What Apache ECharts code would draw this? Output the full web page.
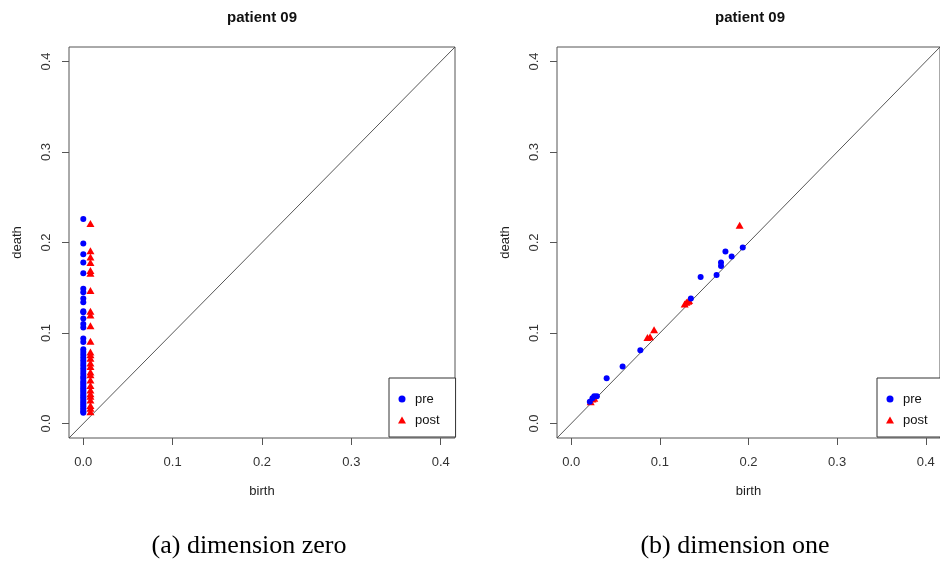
<!DOCTYPE html>
<html>
<head>
<meta charset="utf-8">
<script src="https://cdn.jsdelivr.net/npm/echarts@6/dist/echarts.min.js"></script>
<style>
html,body{margin:0;padding:0;background:#fff;}
#chart{width:940px;height:563px;}
</style>
</head>
<body>
<div id="chart"></div>
<script>
// ---- data ----
const axisLimits = [-0.016, 0.416];
const tickValues = [0, 0.1, 0.2, 0.3, 0.4];
const panelTitles = ['patient 09', 'patient 09'];
const panelCaptions = ['(a) dimension zero', '(b) dimension one'];
const legendNames = ['pre', 'post'];

// dimension zero
const zeroPreDeath = [0.226, 0.199, 0.187, 0.178, 0.166, 0.149, 0.145, 0.138, 0.134, 0.124, 0.123, 0.116, 0.110, 0.106, 0.094, 0.090,
  0.082, 0.079, 0.076, 0.073, 0.070, 0.067, 0.064, 0.061, 0.058, 0.055, 0.052, 0.050, 0.047, 0.045, 0.043, 0.041, 0.039, 0.037,
  0.035, 0.033, 0.031, 0.029, 0.027, 0.025, 0.023, 0.021, 0.019, 0.017, 0.015, 0.013, 0.012];
const zeroPreBirth = [0, 0, 0, 0, 0, 0, 0, 0, 0, 0, 0, 0, 0, 0, 0, 0,
  0, 0, 0, 0, 0, 0, 0, 0, 0, 0, 0, 0, 0, 0, 0, 0, 0, 0,
  0, 0, 0, 0, 0, 0, 0, 0, 0, 0, 0, 0, 0];
const zeroPostDeath = [0.221, 0.191, 0.184, 0.178, 0.169, 0.166, 0.147, 0.124, 0.120, 0.108, 0.091, 0.079, 0.076, 0.072, 0.067,
  0.063, 0.057, 0.054, 0.048, 0.042, 0.037, 0.033, 0.030, 0.026, 0.020, 0.017, 0.013];
const zeroPostBirth = [0.008, 0.008, 0.008, 0.008, 0.008, 0.008, 0.008, 0.008, 0.008, 0.008, 0.008, 0.008, 0.008, 0.008, 0.008,
  0.008, 0.008, 0.008, 0.008, 0.008, 0.008, 0.008, 0.008, 0.008, 0.008, 0.008, 0.008];

// dimension one
const onePreBirth = [0.021, 0.024, 0.026, 0.029, 0.040, 0.058, 0.078, 0.135, 0.146, 0.164, 0.169, 0.169, 0.174, 0.181, 0.1935];
const onePreDeath = [0.024, 0.028, 0.030, 0.030, 0.050, 0.063, 0.081, 0.138, 0.162, 0.164, 0.174, 0.178, 0.190, 0.1845, 0.1944];
const onePostBirth = [0.022, 0.024, 0.026, 0.086, 0.089, 0.0935, 0.128, 0.130, 0.132, 0.133, 0.190];
const onePostDeath = [0.024, 0.027, 0.028, 0.095, 0.096, 0.1035, 0.132, 0.134, 0.135, 0.136, 0.219];

// ---- build ----
const pairs = (xs, ys) => xs.map((x, i) => [x, ys[i]]);
const FONT = 'Liberation Sans, Arial, sans-serif';
const gridLefts = [69, 557];
const gridW = 386, gridH = 391, gridTop = 47;

function xAxisFor(i) {
  return {
    gridIndex: i, type: 'value', min: axisLimits[0], max: axisLimits[1], position: 'bottom',
    axisLine: { show: false, onZero: false },
    splitLine: { show: false },
    axisTick: { show: true, inside: false, length: 7, customValues: tickValues, lineStyle: { color: '#555', width: 1 } },
    axisLabel: { customValues: tickValues, formatter: v => v.toFixed(1), margin: 18, fontSize: 13, color: '#333', fontFamily: FONT },
    name: 'birth', nameLocation: 'middle', nameGap: 47,
    nameTextStyle: { fontSize: 13, color: '#222', fontFamily: FONT }
  };
}
function yAxisFor(i) {
  return {
    gridIndex: i, type: 'value', min: axisLimits[0], max: axisLimits[1], position: 'left',
    axisLine: { show: false, onZero: false },
    splitLine: { show: false },
    axisTick: { show: true, inside: false, length: 7, customValues: tickValues, lineStyle: { color: '#555', width: 1 } },
    axisLabel: { customValues: tickValues, formatter: v => v.toFixed(1), margin: 16, rotate: 90, fontSize: 13, color: '#333', fontFamily: FONT },
    name: 'death', nameLocation: 'middle', nameGap: 45,
    nameTextStyle: { fontSize: 13, color: '#222', fontFamily: FONT }
  };
}
function diag(i) {
  return {
    type: 'line', xAxisIndex: i, yAxisIndex: i, silent: true, symbol: 'none',
    data: [[axisLimits[0], axisLimits[0]], [axisLimits[1], axisLimits[1]]],
    lineStyle: { color: '#444', width: 0.9 }, z: 1
  };
}
function postSeries(i, xs, ys) {
  return { name: 'post', type: 'scatter', xAxisIndex: i, yAxisIndex: i, data: pairs(xs, ys),
    symbol: 'triangle', symbolSize: [8, 7], itemStyle: { color: '#ff0000', opacity: 1 }, z: 3 };
}
function preSeries(i, xs, ys) {
  return { name: 'pre', type: 'scatter', xAxisIndex: i, yAxisIndex: i, data: pairs(xs, ys),
    symbol: 'circle', symbolSize: 6, itemStyle: { color: '#0000ff', opacity: 1 }, z: 4 };
}
function legendFor(left) {
  return {
    data: [{ name: legendNames[0], icon: 'circle' }, { name: legendNames[1], icon: 'triangle' }],
    orient: 'vertical', left: left, top: 378,
    padding: [14, 16, 10, 9], itemGap: 7, itemWidth: 8, itemHeight: 7,
    borderColor: '#333', borderWidth: 1, borderRadius: 0, backgroundColor: '#fff',
    textStyle: { fontSize: 13, color: '#111', fontFamily: FONT, lineHeight: 14, padding: [0, 0, 0, 4] },
    selectedMode: false
  };
}

const chart = echarts.init(document.getElementById('chart'), null, { renderer: 'canvas' });
chart.setOption({
  animation: false,
  backgroundColor: '#fff',
  title: [
    { text: panelTitles[0], left: gridLefts[0] + gridW / 2, top: 10, textAlign: 'center', padding: 0,
      textStyle: { fontSize: 15, fontWeight: 'bold', color: '#111', fontFamily: FONT } },
    { text: panelTitles[1], left: gridLefts[1] + gridW / 2, top: 10, textAlign: 'center', padding: 0,
      textStyle: { fontSize: 15, fontWeight: 'bold', color: '#111', fontFamily: FONT } },
    { text: panelCaptions[0], left: 249, top: 533, textAlign: 'center', padding: 0,
      textStyle: { fontSize: 26, fontWeight: 'normal', color: '#000', fontFamily: 'Liberation Serif, Times New Roman, serif' } },
    { text: panelCaptions[1], left: 735, top: 533, textAlign: 'center', padding: 0,
      textStyle: { fontSize: 26, fontWeight: 'normal', color: '#000', fontFamily: 'Liberation Serif, Times New Roman, serif' } }
  ],
  grid: [
    { left: gridLefts[0], top: gridTop, width: gridW, height: gridH, show: true, borderColor: '#555', borderWidth: 1, backgroundColor: 'transparent', containLabel: false },
    { left: gridLefts[1], top: gridTop, width: gridW, height: gridH, show: true, borderColor: '#555', borderWidth: 1, backgroundColor: 'transparent', containLabel: false }
  ],
  xAxis: [xAxisFor(0), xAxisFor(1)],
  yAxis: [yAxisFor(0), yAxisFor(1)],
  legend: [legendFor(389), legendFor(877)],
  series: [
    diag(0), diag(1),
    postSeries(0, zeroPostBirth, zeroPostDeath),
    preSeries(0, zeroPreBirth, zeroPreDeath),
    postSeries(1, onePostBirth, onePostDeath),
    preSeries(1, onePreBirth, onePreDeath)
  ]
});
</script>
</body>
</html>
